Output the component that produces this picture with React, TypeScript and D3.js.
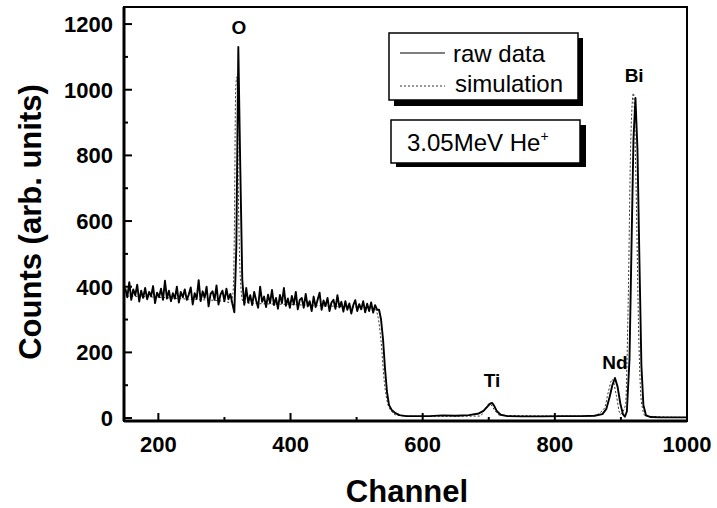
import * as d3 from 'd3';

// RBS spectrum, raw counts. Channels 150..531 in steps of 3
const noiseStart = 150;
const noiseStep = 3;
const rawNoise = [
  395, 368, 414, 360, 392, 374, 406, 355, 388, 366,
  396, 362, 384, 371, 402, 350, 382, 368, 394, 360,
  418, 364, 388, 356, 380, 364, 400, 352, 384, 368,
  392, 360, 376, 398, 346, 380, 364, 420, 356, 386,
  366, 400, 340, 378, 386, 360, 404, 346, 376, 388,
  356, 394, 362, 378, 348, 322, 520, 1130, 760, 420,
  345, 396, 352, 374, 344, 384, 358, 336, 400, 354,
  370, 338, 376, 350, 390, 344, 366, 333, 375, 350,
  396, 342, 364, 336, 372, 346, 384, 331, 360, 366,
  336, 378, 340, 356, 326, 370, 338, 360, 382, 330,
  358, 341, 366, 326, 352, 360, 333, 374, 337, 354,
  324, 356, 330, 349, 318, 344, 359, 326, 347, 331,
  356, 322, 348, 326, 352, 321, 344, 330,
];

// raw counts after the edge
const tailChannels = [
  534, 537, 540, 543, 546, 549, 553, 558, 565, 575,
  590, 610, 630, 650, 670, 685, 692, 698, 702, 705,
  708, 712, 718, 728, 750, 780, 810, 840, 860, 872,
  878, 883, 887, 891, 895, 899, 903, 906, 909, 913,
  916, 919, 922, 925, 928, 931, 934, 938, 945, 960,
  980, 1000,
];
const tailCounts = [
  330, 300, 240, 150, 80, 40, 25, 16, 9, 6,
  6, 6, 8, 7, 9, 14, 22, 35, 44, 46,
  38, 22, 10, 6, 5, 5, 6, 6, 7, 12,
  28, 65, 100, 122, 95, 45, 12, 4, 20, 180,
  520, 850, 975, 820, 480, 160, 40, 8, 3, 2,
  2, 2,
];

const simChannels = [
  150, 200, 250, 300, 312, 316, 318, 320, 322, 324,
  327, 331, 340, 400, 450, 500, 530, 535, 540, 545,
  550, 556, 565, 600, 690, 698, 704, 712, 720, 860,
  878, 884, 890, 896, 902, 910, 914, 918, 922, 926,
  930, 934, 940, 1000,
];
const simCounts = [
  372, 368, 362, 356, 352, 380, 560, 1000, 1040, 700,
  430, 355, 350, 346, 342, 338, 334, 312, 235, 110,
  45, 20, 8, 5, 6, 30, 44, 24, 8, 6,
  30, 80, 118, 70, 12, 40, 350, 850, 990, 700,
  250, 50, 6, 2,
];

const peakNames = ['O', 'Ti', 'Nd', 'Bi'];
const peakChannels = [322, 705, 891, 920];
const peakLabelCounts = [1170, 95, 150, 1025];

const xTicks = [200, 400, 600, 800, 1000];
const xMinor = [300, 500, 700, 900];
const yTicks = [0, 200, 400, 600, 800, 1000, 1200];
const yMinor = [100, 300, 500, 700, 900, 1100];

const font = '"Liberation Sans", Arial, sans-serif';

export default function App() {
  const width = 717;
  const height = 508;
  const left = 124;
  const right = 687;
  const top = 7;
  const bottom = 421;

  const x = d3.scaleLinear().domain([148, 1000]).range([left, right]);
  const y = d3.scaleLinear().domain([-9, 1252]).range([bottom, top]);

  const raw = rawNoise
    .map((c, i) => [noiseStart + i * noiseStep, c])
    .concat(tailChannels.map((ch, i) => [ch, tailCounts[i]]));
  const sim = simChannels.map((ch, i) => [ch, simCounts[i]]);

  const rawLine = d3
    .line()
    .x((d) => x(d[0]))
    .y((d) => y(d[1]));
  const simLine = d3
    .line()
    .curve(d3.curveMonotoneX)
    .x((d) => x(d[0]))
    .y((d) => y(d[1]));

  return (
    <svg
      width={width}
      height={height}
      style={{ position: 'absolute', left: 0, top: 0, background: 'white' }}
      fontFamily={font}
    >
      <path d={simLine(sim)} fill="none" stroke="#333" strokeWidth={1} strokeDasharray="2,2" transform="translate(-2,0)" />
      <path d={rawLine(raw)} fill="none" stroke="#000" strokeWidth={1.9} strokeLinejoin="round" />

      {/* frame */}
      <rect x={left} y={top} width={right - left} height={bottom - top} fill="none" stroke="#000" strokeWidth={2} />
      <line x1={left} x2={left} y1={top} y2={bottom} stroke="#000" strokeWidth={3} />
      <line x1={left} x2={right} y1={bottom} y2={bottom} stroke="#000" strokeWidth={3} />

      {xTicks.map((t) => (
        <g key={t}>
          <line x1={x(t)} x2={x(t)} y1={bottom} y2={bottom - 8} stroke="#000" strokeWidth={2} />
          <text x={x(t)} y={452} textAnchor="middle" fontSize={22} fontWeight="bold">
            {t}
          </text>
        </g>
      ))}
      {xMinor.map((t) => (
        <line key={t} x1={x(t)} x2={x(t)} y1={bottom} y2={bottom - 4} stroke="#000" strokeWidth={2} />
      ))}
      {yTicks.map((t) => (
        <g key={t}>
          <line x1={left} x2={left + 8} y1={y(t)} y2={y(t)} stroke="#000" strokeWidth={2} />
          <text x={113} y={y(t) + 8} textAnchor="end" fontSize={22} fontWeight="bold">
            {t}
          </text>
        </g>
      ))}
      {yMinor.map((t) => (
        <line key={t} x1={left} x2={left + 4} y1={y(t)} y2={y(t)} stroke="#000" strokeWidth={2} />
      ))}

      <text x={407} y={502} textAnchor="middle" fontSize={31} fontWeight="bold">
        Channel
      </text>
      <text
        transform={`translate(41, 222) rotate(-90)`}
        textAnchor="middle"
        fontSize={31}
        fontWeight="bold"
      >
        Counts (arb. units)
      </text>

      {peakNames.map((p, i) => (
        <text
          key={p}
          x={x(peakChannels[i])}
          y={y(peakLabelCounts[i])}
          textAnchor="middle"
          fontSize={19}
          fontWeight="bold"
        >
          {p}
        </text>
      ))}

      {/* legend */}
      <rect x={394} y={38} width={189} height={68} fill="#000" />
      <rect x={389} y={33} width={189} height={67} fill="#fff" stroke="#000" strokeWidth={1.5} />
      <line x1={400} x2={445} y1={53} y2={53} stroke="#000" strokeWidth={1.2} />
      <text x={453} y={62} fontSize={24}>raw data</text>
      <line x1={400} x2={445} y1={86} y2={86} stroke="#333" strokeWidth={1} strokeDasharray="2,2" />
      <text x={455} y={92} fontSize={24}>simulation</text>

      <rect x={396} y={125} width={190} height={42} fill="#000" />
      <rect x={391} y={120} width={189} height={43} fill="#fff" stroke="#000" strokeWidth={1.5} />
      <text x={407} y={151} fontSize={24}>
        3.05MeV He<tspan dy={-10} fontSize={14}>+</tspan>
      </text>
    </svg>
  );
}
